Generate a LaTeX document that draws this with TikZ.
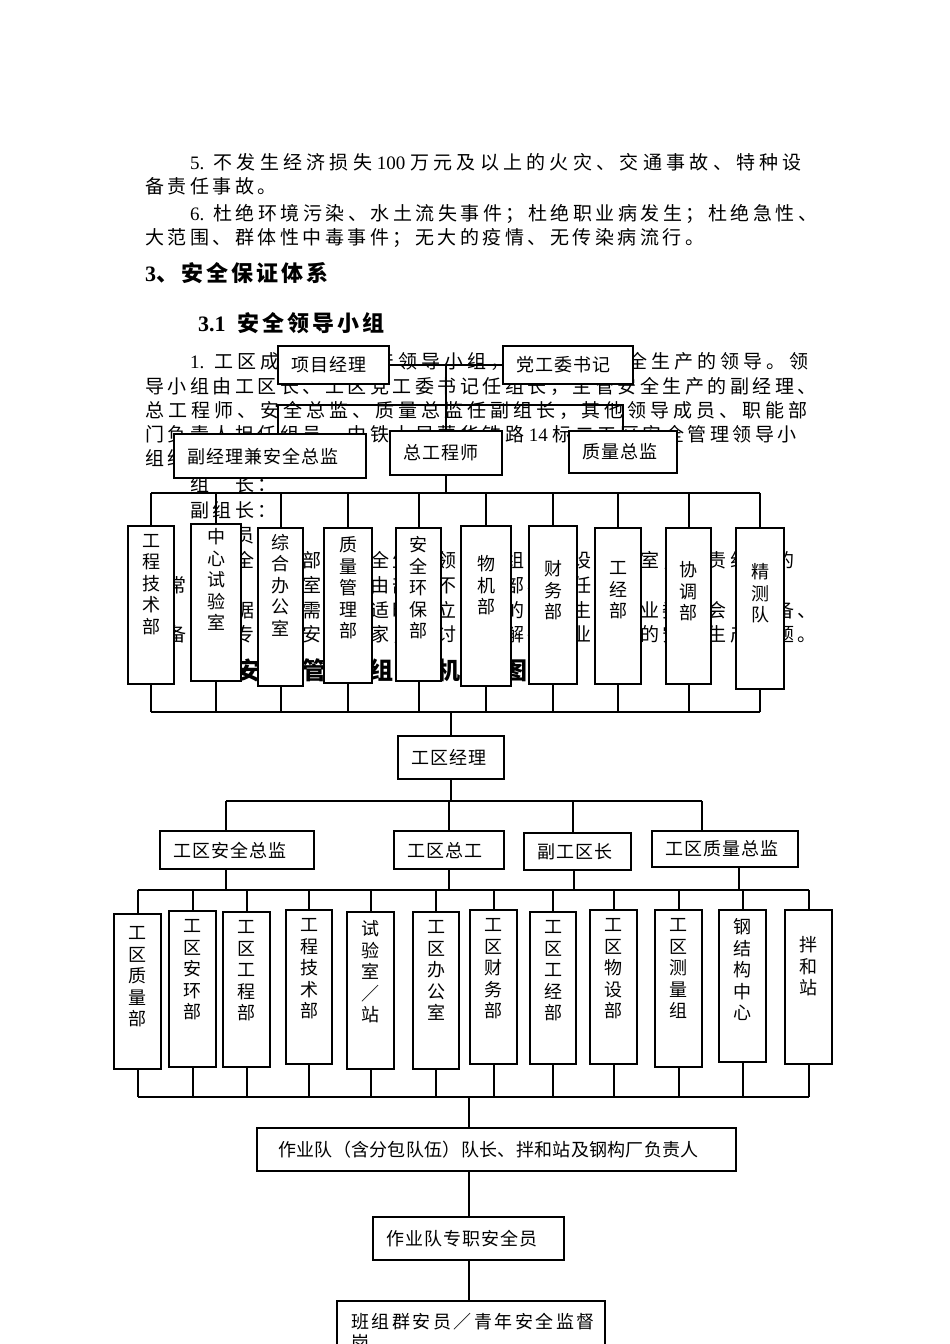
\documentclass[tikz,border=0pt]{standalone}
\usepackage{fontspec}
\setmainfont{Noto Sans CJK SC}
\newfontfamily\cjk{Noto Sans CJK SC}
\newfontfamily\lat{Liberation Serif}
\newfontfamily\cjkbody{Noto Sans CJK SC}[LetterSpace=18.4]
\newfontfamily\cjkbox{Noto Sans CJK SC}[LetterSpace=5.5]
\newfontfamily\cjkhead{Noto Sans CJK SC}[LetterSpace=13.6]
\newfontfamily\cjktitle{Noto Sans CJK SC}[LetterSpace=39]
\usetikzlibrary{positioning}
\tikzset{
  bodyline/.style={anchor=base west,inner sep=0pt,font=\cjkbody\fontsize{19}{22}\selectfont},
  heading/.style={anchor=base west,inner sep=0pt,font=\cjkhead\bfseries\fontsize{22}{26}\selectfont},
  postbox/.style={draw,line width=2.2pt,fill=white,anchor=north west,align=left,inner xsep=13pt,inner ysep=0pt,font=\cjkbox\fontsize{18}{21.5}\selectfont},
  dept/.style={draw,line width=2.2pt,fill=white,anchor=north west,inner sep=0pt},
  deptlabel/.style={align=center,inner sep=0pt,font=\cjk\fontsize{18}{21.5}\selectfont},
  wire/.style={line width=1.8pt}
}
\begin{document}
\begin{tikzpicture}[x=1pt,y=-1pt]
  \useasboundingbox (0,0) rectangle (950,1344);
  \clip (0,0) rectangle (950,1344);
  \fill[white] (0,0) rectangle (950,1344);

  % page text behind the chart
  \node[bodyline] (l1) at (190,169.2) {\addfontfeature{LetterSpace=22.6}{\lat 5.}\hspace{9pt}不发生经济损失{\lat\ 100\ }万元及以上的火灾、交通事故、特种设};
  \node[bodyline] (l2) at (145,193.2) {备责任事故。};
  \node[bodyline] (l3) at (190,220.2) {{\lat 6.}\hspace{9pt}杜绝环境污染、水土流失事件；杜绝职业病发生；杜绝急性、};
  \node[bodyline] (l4) at (145,244.2) {大范围、群体性中毒事件；无大的疫情、无传染病流行。};
  \node[heading] (h1) at (145,281.4) {{\lat\bfseries 3}、安全保证体系};
  \node[heading] (h2) at (198,331.4) {{\lat\bfseries 3.1}\hspace{12pt}安全领导小组};
  \node[bodyline] (p1) at (190,368.2) {\addfontfeature{LetterSpace=21}{\lat 1.}\hspace{10pt}工区成立安全生产领导小组，负责工区安全生产的领导。领};
  \node[bodyline] (p2) at (145,393.2) {导小组由工区长、工区党工委书记任组长，主管安全生产的副经理、};
  \node[bodyline] (p3) at (145,417.2) {\addfontfeature{LetterSpace=21}总工程师、安全总监、质量总监任副组长，其他领导成员、职能部};
  \node[bodyline] (p4) at (145,441.2) {门负责人担任组员，中铁十局蒙华铁路{\lat\ 14\ }标二工区安全管理领导小};
  \node[bodyline] (p5) at (145,465.2) {组织机构如下：};
  \node[bodyline] (g1) at (190,491.2) {组　长：};
  \node[bodyline] (g2) at (190,517.2) {副组长：};
  \node[bodyline] (g3) at (190,542.2) {组　员：};
  \node[bodyline] (q1) at (190,567.2) {以安全环保部为安全生产领导小组的常设办公室，负责组织的};
  \node[bodyline] (q2) at (145,592.2) {日常工作、各部室工作由部门不定期部署和任务。};
  \node[bodyline] (q3) at (190,617.2) {并根据安全需要，适时成立相关的安全生产专业委员会（设备、};
  \node[bodyline] (q4) at (145,641.2) {装备等）专业的安全专家，研讨并破解各专业工作的安全生产问题。};
  \node[anchor=base west,inner sep=0pt,font=\cjktitle\bfseries\fontsize{24}{28}\selectfont] (title) at (236,679.1) {安全管理组织机构图};

  % leading group
  \node[postbox,text width=85pt,minimum height=38pt] (pm) at (277,345) {项目经理};
  \node[postbox,text width=104pt,minimum height=38pt] (dang) at (502,345) {党工委书记};
  \node[postbox,text width=166pt,minimum height=44pt] (fu) at (173,433) {副经理兼安全总监};
  \node[postbox,text width=86pt,minimum height=44pt] (zg) at (389,430) {总工程师};
  \node[postbox,text width=82pt,minimum height=42pt] (zl) at (568,430) {质量总监};

  \foreach \n/\x/\y/\w/\h/\pad/\lab in {
    1/127/525/46/158/9/{工\\程\\技\\术\\部},
    2/190/523/50/157/5.5/{中\\心\\试\\验\\室},
    3/257/527/45/158/7/{综\\合\\办\\公\\室},
    4/323/527/48/155/9.5/{质\\量\\管\\理\\部},
    5/395/527/45/153/9.5/{安\\全\\环\\保\\部},
    6/460/525/50/160/30.5/{物\\机\\部},
    7/528/525/48/158/35.5/{财\\务\\部},
    8/594/527/46/156/34.5/{工\\经\\部},
    9/665/527/45/156/34.5/{协\\调\\部},
    10/735/527/48/161/36.5/{精\\测\\队}} {
    \node[dept,minimum width=\w pt,minimum height=\h pt] (d\n) at (\x,\y) {};
    \node[deptlabel,below=\pad pt of d\n.north] (dt\n) {\lab};
  }

  % work area
  \node[postbox,text width=80pt,minimum height=43pt] (mgr) at (397,735) {工区经理};
  \node[postbox,text width=128pt,minimum height=38pt] (s1) at (159,830) {工区安全总监};
  \node[postbox,text width=84pt,minimum height=38pt] (s2) at (393,830) {工区总工};
  \node[postbox,text width=81pt,minimum height=37pt] (s3) at (523,832) {副工区长};
  \node[postbox,text width=120pt,minimum height=36pt] (s4) at (651,830) {工区质量总监};

  \foreach \n/\x/\y/\w/\h/\pad/\lab in {
    1/113/913/47/155/13.5/{工\\区\\质\\量\\部},
    2/168/910/47/156/9.5/{工\\区\\安\\环\\部},
    3/222/911/47/155/9.5/{工\\区\\工\\程\\部},
    4/285/909/46/154/9.5/{工\\程\\技\\术\\部},
    5/346/911/47/157/9.5/{试\\验\\室\\／\\站},
    6/412/911/46/157/9.5/{工\\区\\办\\公\\室},
    7/469/909/47/154/9.5/{工\\区\\财\\务\\部},
    8/529/911/46/152/9.5/{工\\区\\工\\经\\部},
    9/589/909/47/154/9.5/{工\\区\\物\\设\\部},
    10/654/909/47/157/9.5/{工\\区\\测\\量\\组},
    11/718/909/47/152/9.5/{钢\\结\\构\\中\\心},
    12/784/909/47/154/27.5/{拌\\和\\站}} {
    \node[dept,minimum width=\w pt,minimum height=\h pt] (e\n) at (\x,\y) {};
    \node[deptlabel,below=\pad pt of e\n.north] (et\n) {\lab};
  }

  \node[postbox,text width=437pt,inner xsep=21pt,minimum height=43pt] (zy) at (256,1127) {\addfontfeature{LetterSpace=1.7}作业队（含分包队伍）队长、拌和站及钢构厂负责人};
  \node[postbox,text width=165pt,minimum height=43pt] (zz) at (372,1216) {作业队专职安全员};
  \node[postbox,text width=240pt,inner xsep=14pt,inner ysep=12pt] (bz) at (336,1300) {\addfontfeature{LetterSpace=14}班组群安员／青年安全监督\\岗};

  % connectors
  \coordinate (barA) at (0,405);
  \coordinate (busA) at (0,493);
  \coordinate (busB) at (0,712);
  \coordinate (busC) at (0,801);
  \coordinate (busD) at (0,890);
  \coordinate (busE) at (0,1097);
  \coordinate (fut) at ([xshift=8pt]fu.north);
  \draw[wire] (pm.east) -- (dang.west);
  \draw[wire] (zg.north) -- (zg.north |- pm.east);
  \draw[wire] (fut) -- (fut |- barA) -- (zl.north |- barA) -- (zl.north);
  \draw[wire] (zg.south) -- (zg.south |- busA);
  \draw[wire] (d1.north |- busA) -- (d10.north |- busA);
  \draw[wire] (d1.south |- busB) -- (d10.south |- busB);
  \foreach \n in {1,...,10} {
    \draw[wire] (d\n.north) -- (d\n.north |- busA);
    \draw[wire] (d\n.south) -- (d\n.south |- busB);
  }
  \draw[wire] (mgr.north) -- (mgr.north |- busB);
  \draw[wire] (mgr.south) -- (mgr.south |- busC);

  \coordinate (s1t) at ([xshift=-11pt]s1.north);
  \coordinate (s3t) at ([xshift=-5pt]s3.north);
  \coordinate (s4t) at ([xshift=-23pt]s4.north);
  \coordinate (s1b) at ([xshift=-11pt]s1.south);
  \coordinate (s3b) at ([xshift=-3.5pt]s3.south);
  \coordinate (s4b) at ([xshift=14pt]s4.south);
  \draw[wire] (s1t |- busC) -- (s4t |- busC);
  \foreach \p in {s1t,s2.north,s3t,s4t}
    \draw[wire] (\p) -- (\p |- busC);
  \foreach \p in {s1b,s2.south,s3b,s4b}
    \draw[wire] (\p) -- (\p |- busD);

  \draw[wire] (e1.north |- busD) -- (e12.north |- busD);
  \draw[wire] (e1.south |- busE) -- (e12.south |- busE);
  \foreach \n in {1,...,12} {
    \draw[wire] (e\n.north) -- (e\n.north |- busD);
    \draw[wire] (e\n.south) -- (e\n.south |- busE);
  }
  \draw[wire] (zz.north |- busE) -- (zz.north |- zy.north);
  \draw[wire] (zy.south -| zz.north) -- (zz.north);
  \draw[wire] (zz.south) -- (zz.south |- bz.north);
\end{tikzpicture}
\end{document}
